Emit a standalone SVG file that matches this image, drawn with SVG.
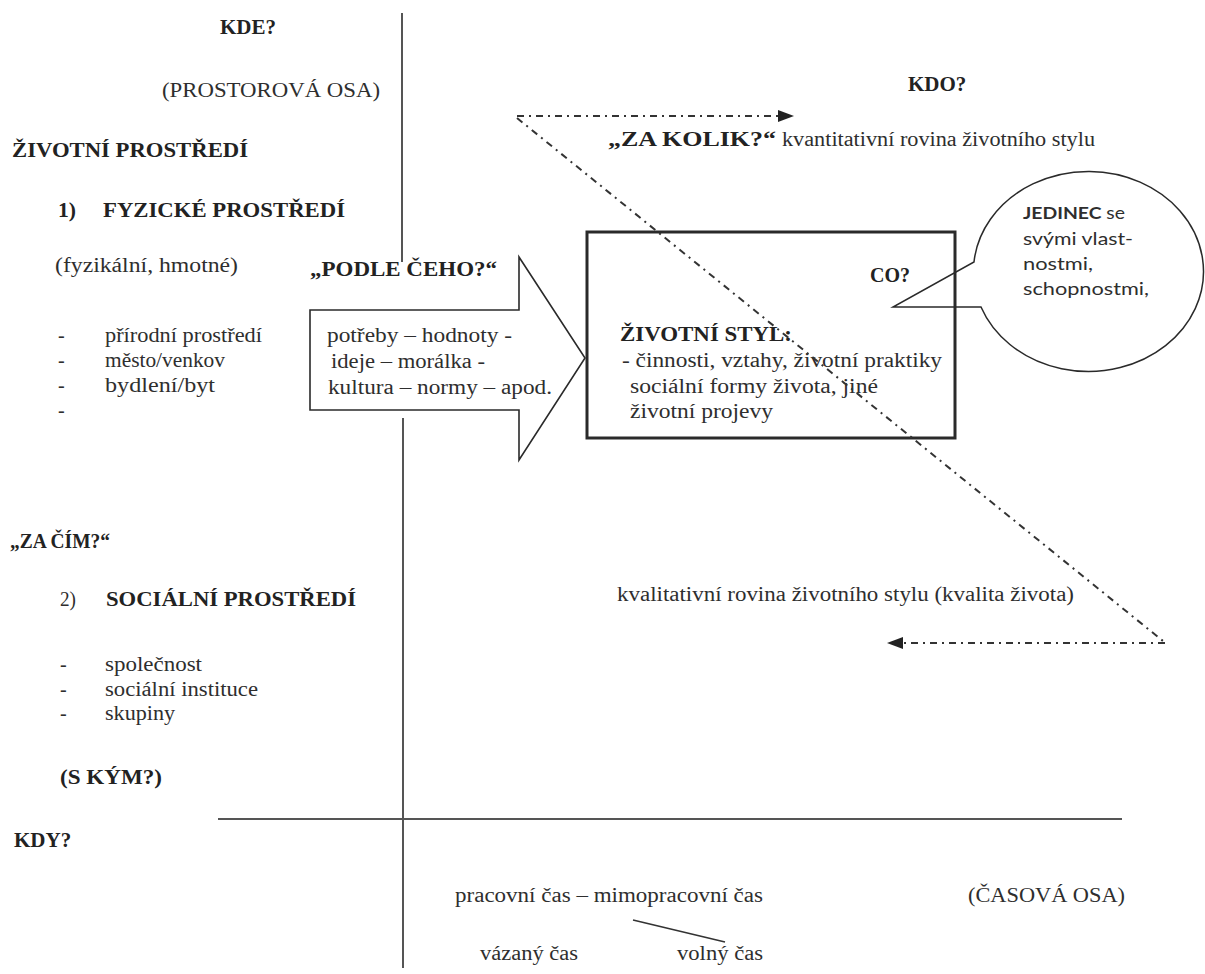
<svg xmlns="http://www.w3.org/2000/svg" width="1205" height="974" viewBox="0 0 1205 974">
<defs>
<style>
text{font-family:"Liberation Serif","DejaVu Serif","Times New Roman",serif;font-size:20px;fill:#2e2e2e}
.b{font-weight:bold;fill:#222}
.h{font-size:21px}
.s{font-family:"Lato","Liberation Sans",sans-serif;font-size:17px}
.axis{stroke:#555;stroke-width:2;fill:none}
.dd{stroke:#333;stroke-width:2;fill:none;stroke-dasharray:7 5 2 5}
.shape{stroke:#2a2a2a;fill:none}
</style>
<marker id="ah" viewBox="0 0 16 12" refX="15" refY="6" markerWidth="16" markerHeight="12" markerUnits="userSpaceOnUse" orient="auto">
<path d="M0,0 L16,6 L0,12 z" fill="#222"/>
</marker>
</defs>
<rect width="1205" height="974" fill="#fff"/>

<g id="axes">
<line class="axis" x1="402" y1="13" x2="402" y2="262"/>
<line class="axis" x1="403" y1="418" x2="403" y2="968"/>
<line class="axis" x1="218" y1="819" x2="1122" y2="819"/>
</g>

<g id="left-labels">
<text class="b h" x="220" y="34">KDE?</text>
<text x="162" y="97" textLength="218" lengthAdjust="spacingAndGlyphs">(PROSTOROVÁ OSA)</text>
<text class="b" x="12" y="157" textLength="236" lengthAdjust="spacingAndGlyphs">ŽIVOTNÍ PROSTŘEDÍ</text>
<text class="b" x="58" y="217" textLength="18" lengthAdjust="spacingAndGlyphs">1)</text>
<text class="b" x="103" y="217" textLength="242" lengthAdjust="spacingAndGlyphs">FYZICKÉ PROSTŘEDÍ</text>
<text x="55" y="272" textLength="183" lengthAdjust="spacingAndGlyphs">(fyzikální, hmotné)</text>
<text x="58" y="342">-</text>
<text x="105" y="342" textLength="157" lengthAdjust="spacingAndGlyphs">přírodní prostředí</text>
<text x="58" y="367">-</text>
<text x="105" y="367" textLength="120" lengthAdjust="spacingAndGlyphs">město/venkov</text>
<text x="58" y="392">-</text>
<text x="105" y="392" textLength="110" lengthAdjust="spacingAndGlyphs">bydlení/byt</text>
<text x="58" y="417">-</text>
<text class="b" x="10" y="548" textLength="100" lengthAdjust="spacingAndGlyphs">„ZA ČÍM?“</text>
<text x="60" y="606" textLength="16" lengthAdjust="spacingAndGlyphs">2)</text>
<text class="b" x="106" y="606" textLength="250" lengthAdjust="spacingAndGlyphs">SOCIÁLNÍ PROSTŘEDÍ</text>
<text x="60" y="671">-</text>
<text x="105" y="671" textLength="97" lengthAdjust="spacingAndGlyphs">společnost</text>
<text x="60" y="696">-</text>
<text x="105" y="696" textLength="153" lengthAdjust="spacingAndGlyphs">sociální instituce</text>
<text x="60" y="720">-</text>
<text x="105" y="720" textLength="70" lengthAdjust="spacingAndGlyphs">skupiny</text>
<text class="b" x="60" y="784" textLength="102" lengthAdjust="spacingAndGlyphs">(S KÝM?)</text>
<text class="b h" x="14" y="847">KDY?</text>
</g>

<g id="arrow-podle">
<text class="b" x="310" y="276" textLength="187" lengthAdjust="spacingAndGlyphs">„PODLE ČEHO?“</text>
<polygon class="shape" stroke-width="1.6" points="310,310 519,310 519,257 585,358 519,460 519,410 310,410"/>
<text x="327" y="342" textLength="185" lengthAdjust="spacingAndGlyphs">potřeby – hodnoty -</text>
<text x="331" y="368" textLength="154" lengthAdjust="spacingAndGlyphs">ideje – morálka -</text>
<text x="328" y="394" textLength="224" lengthAdjust="spacingAndGlyphs">kultura – normy – apod.</text>
</g>

<g id="box-styl">
<rect class="shape" stroke-width="3" x="587" y="232" width="368" height="206"/>
<text class="b" x="870" y="282">CO?</text>
<text class="b" x="620" y="341" textLength="172" lengthAdjust="spacingAndGlyphs">ŽIVOTNÍ STYL:</text>
<text x="622" y="367" textLength="320" lengthAdjust="spacingAndGlyphs">- činnosti, vztahy, životní praktiky</text>
<text x="630" y="393" textLength="248" lengthAdjust="spacingAndGlyphs">sociální formy života, jiné</text>
<text x="630" y="418" textLength="143" lengthAdjust="spacingAndGlyphs">životní projevy</text>
</g>

<g id="bubble-jedinec">
<path class="shape" stroke-width="1.5" d="M974,262 A115,100 0 1 1 981,307 L893,307 Z"/>
<text class="s" x="1023" y="219" textLength="102" lengthAdjust="spacingAndGlyphs"><tspan font-weight="bold">JEDINEC</tspan> se</text>
<text class="s" x="1023" y="245" textLength="110" lengthAdjust="spacingAndGlyphs">svými vlast-</text>
<text class="s" x="1023" y="270" textLength="70" lengthAdjust="spacingAndGlyphs">nostmi,</text>
<text class="s" x="1023" y="295" textLength="126" lengthAdjust="spacingAndGlyphs">schopnostmi,</text>
</g>

<g id="right-labels">
<text class="b h" x="908" y="91">KDO?</text>
<text class="b" x="608" y="146" textLength="168" lengthAdjust="spacingAndGlyphs">„ZA KOLIK?“</text>
<text x="782" y="146" textLength="313" lengthAdjust="spacingAndGlyphs">kvantitativní rovina životního  stylu</text>
<text x="617" y="601" textLength="457" lengthAdjust="spacingAndGlyphs">kvalitativní rovina životního stylu (kvalita života)</text>
</g>

<g id="time-labels">
<text x="455" y="902" textLength="308" lengthAdjust="spacingAndGlyphs">pracovní čas – mimopracovní čas</text>
<text x="968" y="902" textLength="157" lengthAdjust="spacingAndGlyphs">(ČASOVÁ OSA)</text>
<text x="480" y="960" textLength="98" lengthAdjust="spacingAndGlyphs">vázaný čas</text>
<text x="677" y="960" textLength="86" lengthAdjust="spacingAndGlyphs">volný čas</text>
</g>

<g id="connectors">
<line class="dd" x1="517" y1="116" x2="793" y2="116" marker-end="url(#ah)"/>
<line class="dd" x1="517" y1="118" x2="1163" y2="641"/>
<line class="dd" x1="1165" y1="643" x2="888" y2="643" marker-end="url(#ah)"/>
<line stroke="#333" stroke-width="1.6" x1="633" y1="920" x2="725" y2="942"/>
</g>
</svg>
